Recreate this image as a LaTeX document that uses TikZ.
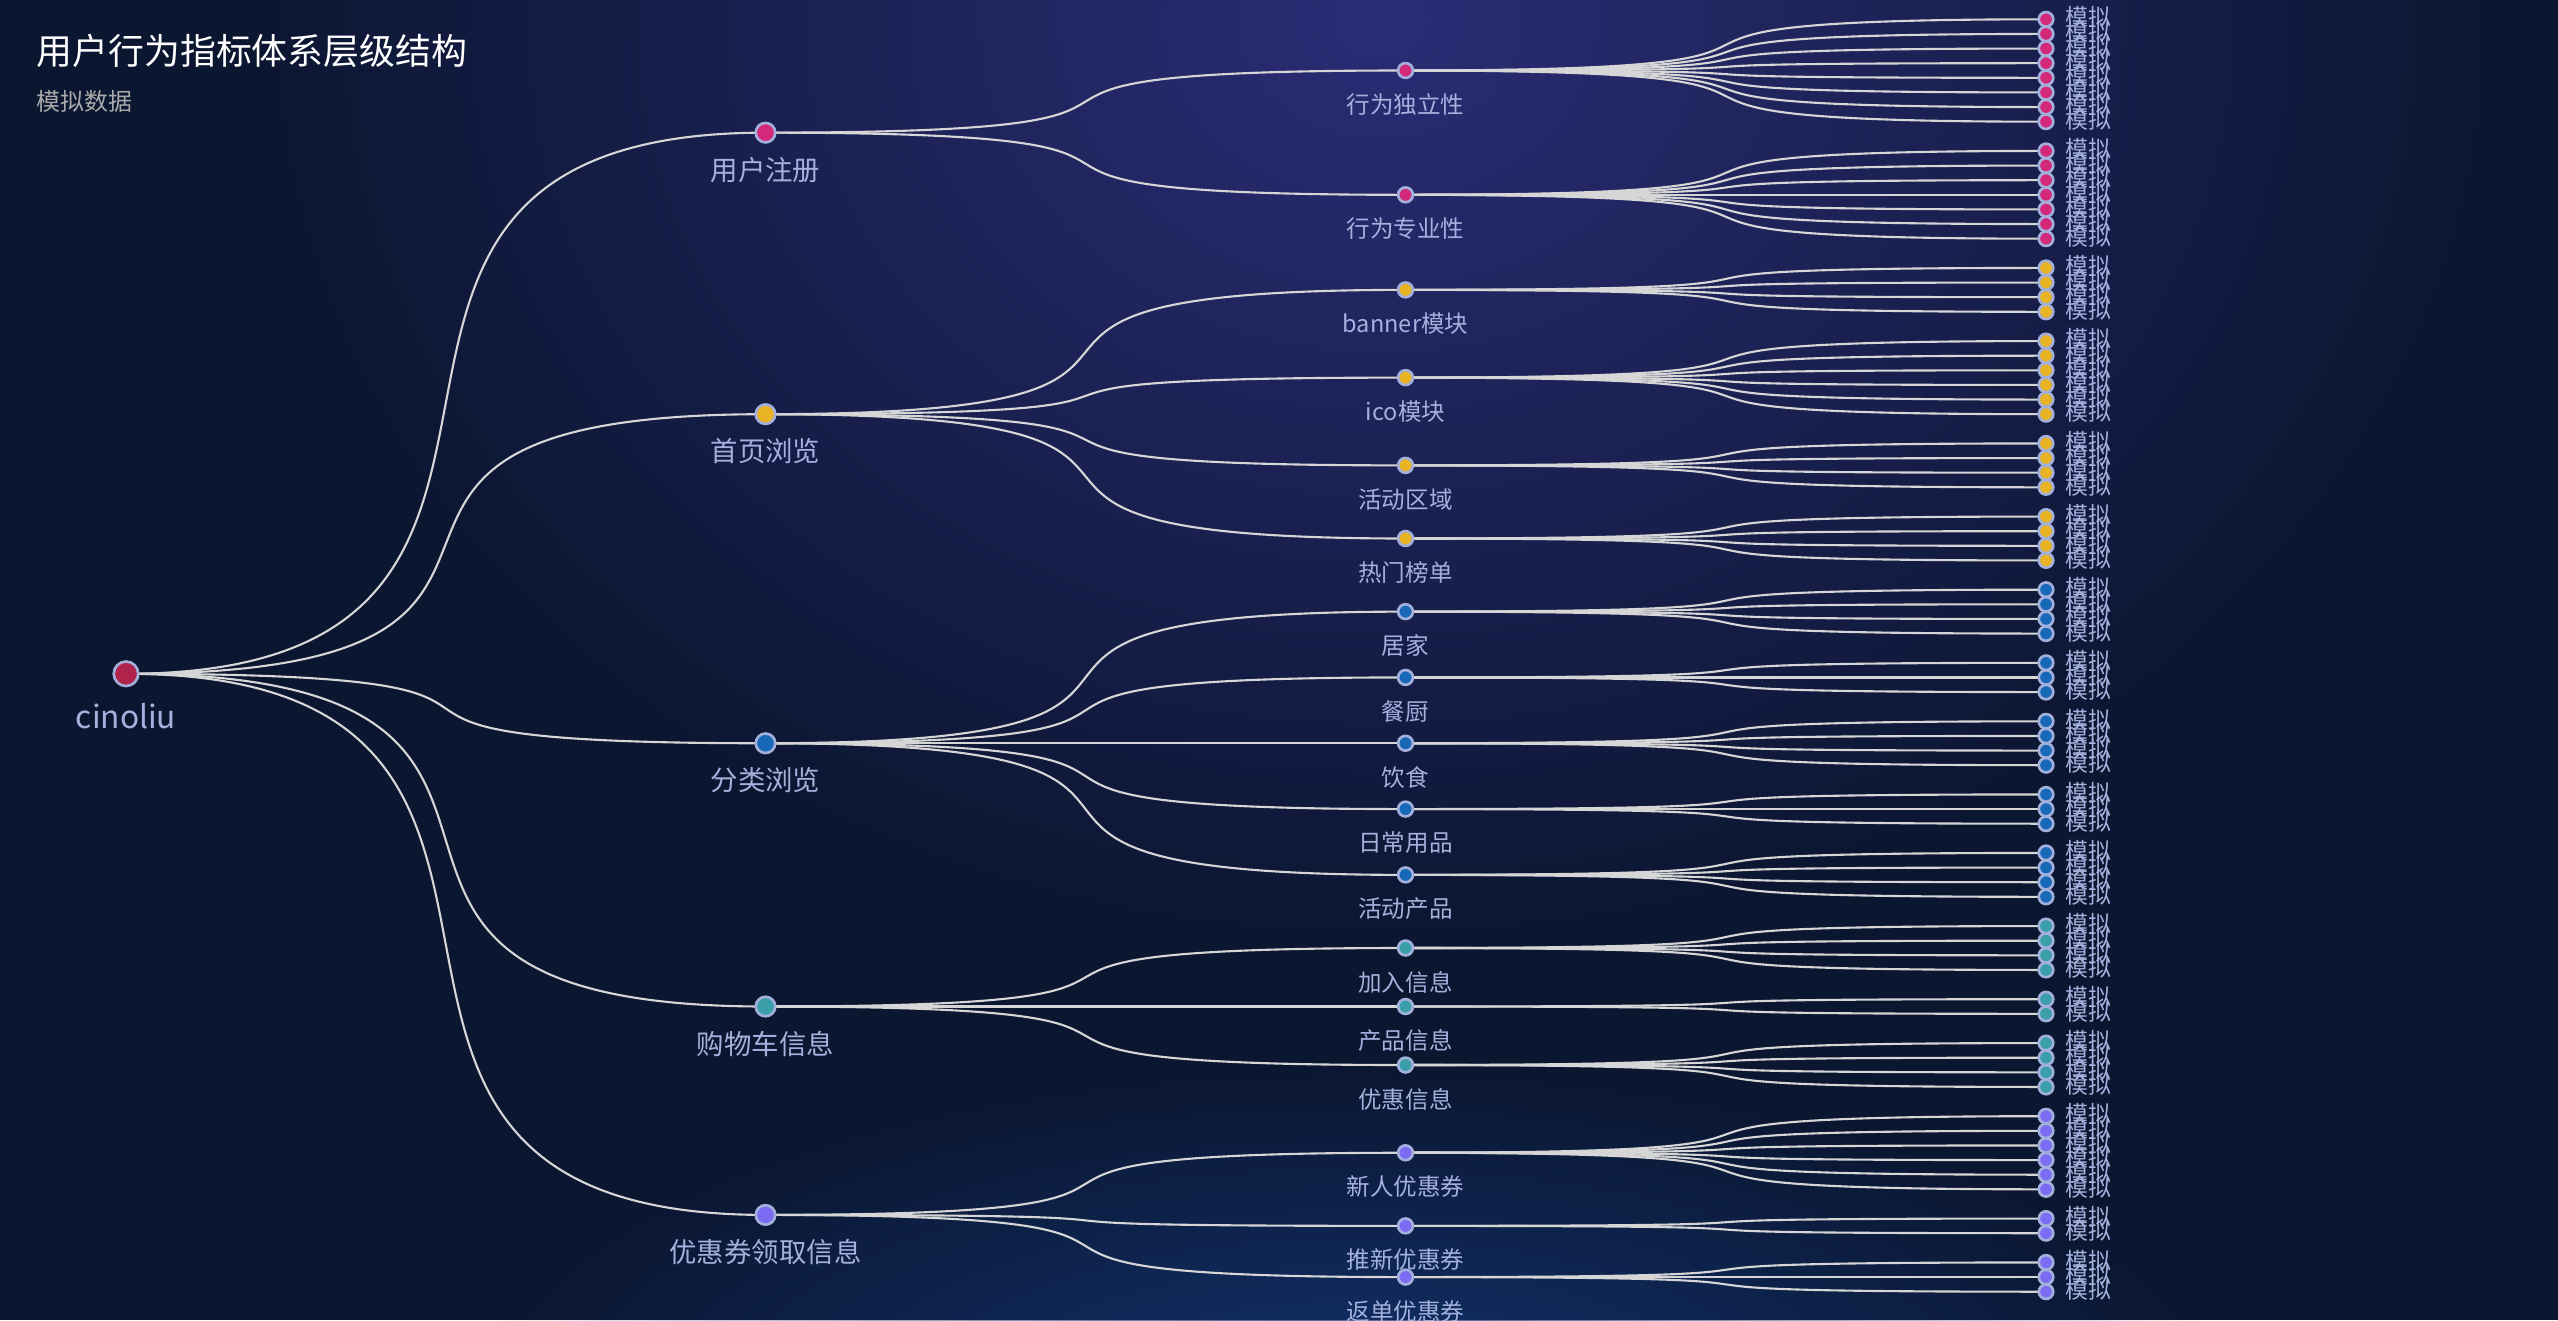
\documentclass[tikz,border=0pt]{standalone}
\usepackage{fontspec}
\setmainfont{Noto Sans CJK SC}
\usetikzlibrary{fadings}
\tikzfading[name=glowfade, inner color=transparent!0, outer color=transparent!100]
\pgfdeclarelayer{bglayer}
\pgfdeclarelayer{edges}
\pgfsetlayers{bglayer,edges,main}
\definecolor{bgc}{HTML}{0B1630}
\definecolor{glowtop}{HTML}{2B2D76}
\definecolor{glowbot}{HTML}{123470}
\definecolor{edgec}{HTML}{D6D6D6}
\definecolor{bordc}{HTML}{A3B0DC}
\definecolor{labc}{HTML}{A4B1DD}
\definecolor{subc}{HTML}{AAAAAA}
\definecolor{rootc}{HTML}{B0234B}
\definecolor{pinkc}{HTML}{D4287A}
\definecolor{yellc}{HTML}{E8B423}
\definecolor{bluec}{HTML}{1868B8}
\definecolor{tealc}{HTML}{3A9FA8}
\definecolor{purpc}{HTML}{7B6CF3}
\tikzset{
  edge/.style={draw=edgec, line width=0.6pt},
  dot/.style={circle, inner sep=0pt, draw=bordc, line width=0.75pt},
  rootdot/.style={dot, minimum size=0.245cm, fill=rootc},
  lonedot/.style={dot, minimum size=0.195cm},
  ltwodot/.style={dot, minimum size=0.148cm},
  leafdot/.style={dot, minimum size=0.145cm},
  rootlab/.style={text=labc, inner sep=0pt, font=\fontsize{9pt}{10pt}\selectfont},
  lonelab/.style={text=labc, inner sep=0pt, font=\fontsize{7.8pt}{9pt}\selectfont},
  ltwolab/.style={text=labc, inner sep=0pt, font=\fontsize{6.7pt}{8pt}\selectfont},
  leaflab/.style={text=labc, inner sep=0pt, anchor=west, font=\fontsize{6.5pt}{7.5pt}\selectfont},
}
% #1 level-1 parent, #2 own name, #3 text, #4 colour, #5 first leaf slot, #6 leaf count
\newcommand\leafgroup[6]{%
  \pgfmathsetmacro\grpcen{#5+(#6-1)/2}%
  \node[ltwodot, fill=#4] (#2) at (1405.5, {19.3+14.625*\grpcen}) {};
  \node[ltwolab] (#2-t) at ([yshift=-0.34cm]#2.center) {#3};
  \begin{pgfonlayer}{edges}
    \draw[edge] (#1.center) .. controls +(537.6,0) and +(-537.6,0) .. (#2.center);
  \end{pgfonlayer}
  \foreach \k in {1,...,#6} {
    \node[leafdot, fill=#4] (#2-\k) at (2046, {19.3+14.625*(#5+\k-1)}) {};
    \node[leaflab] (#2-\k-t) at ([xshift=0.185cm, yshift=0.02cm]#2-\k.center) {模拟};
    \begin{pgfonlayer}{edges}
      \draw[edge] (#2.center) .. controls +(538,0) and +(-538,0) .. (#2-\k.center);
    \end{pgfonlayer}
  }%
}
\begin{document}
\begin{tikzpicture}[x=0.01cm, y=-0.01cm]
\useasboundingbox (0,0) rectangle (2558,1320);
\begin{pgfonlayer}{bglayer}
  \begin{scope}
    \clip (0,0) rectangle (2558,1320);
    \fill[bgc] (0,0) rectangle (2558,1320);
    \fill[glowbot, path fading=glowfade] (1350,1420) ellipse [x radius=9cm, y radius=3.6cm];
    \fill[glowtop, path fading=glowfade] (1380,20) ellipse [x radius=11.5cm, y radius=9.5cm];
  \end{scope}
\end{pgfonlayer}
\clip (0,0) rectangle (2558,1320);

\node[anchor=west, inner sep=0pt, text=white, font=\fontsize{10.2pt}{12pt}\selectfont] (title) at (36,51) {用户行为指标体系层级结构};
\node[anchor=west, inner sep=0pt, text=subc, font=\fontsize{6.8pt}{8pt}\selectfont] (subtitle) at (36,101) {模拟数据};

\node[rootdot] (root) at (126, {19.3+14.625*44.75}) {};
\node[rootlab] (root-t) at ([yshift=-0.42cm]root.center) {cinoliu};

\foreach \nm/\txt/\col/\u in {u1/用户注册/pinkc/7.75, u2/首页浏览/yellc/27, u3/分类浏览/bluec/49.5, u4/购物车信息/tealc/67.5, u5/优惠券领取信息/purpc/81.75} {
  \node[lonedot, fill=\col] (\nm) at (765.5, {19.3+14.625*\u}) {};
  \node[lonelab] (\nm-t) at ([yshift=-0.37cm]\nm.center) {\txt};
  \begin{pgfonlayer}{edges}
    \draw[edge] (root.center) .. controls +(537,0) and +(-537,0) .. (\nm.center);
  \end{pgfonlayer}
}

\leafgroup{u1}{g1}{行为独立性}{pinkc}{0}{8}
\leafgroup{u1}{g2}{行为专业性}{pinkc}{9}{7}
\leafgroup{u2}{g3}{banner模块}{yellc}{17}{4}
\leafgroup{u2}{g4}{ico模块}{yellc}{22}{6}
\leafgroup{u2}{g5}{活动区域}{yellc}{29}{4}
\leafgroup{u2}{g6}{热门榜单}{yellc}{34}{4}
\leafgroup{u3}{g7}{居家}{bluec}{39}{4}
\leafgroup{u3}{g8}{餐厨}{bluec}{44}{3}
\leafgroup{u3}{g9}{饮食}{bluec}{48}{4}
\leafgroup{u3}{g10}{日常用品}{bluec}{53}{3}
\leafgroup{u3}{g11}{活动产品}{bluec}{57}{4}
\leafgroup{u4}{g12}{加入信息}{tealc}{62}{4}
\leafgroup{u4}{g13}{产品信息}{tealc}{67}{2}
\leafgroup{u4}{g14}{优惠信息}{tealc}{70}{4}
\leafgroup{u5}{g15}{新人优惠券}{purpc}{75}{6}
\leafgroup{u5}{g16}{推新优惠券}{purpc}{82}{2}
\leafgroup{u5}{g17}{返单优惠券}{purpc}{85}{3}
\end{tikzpicture}
\end{document}
